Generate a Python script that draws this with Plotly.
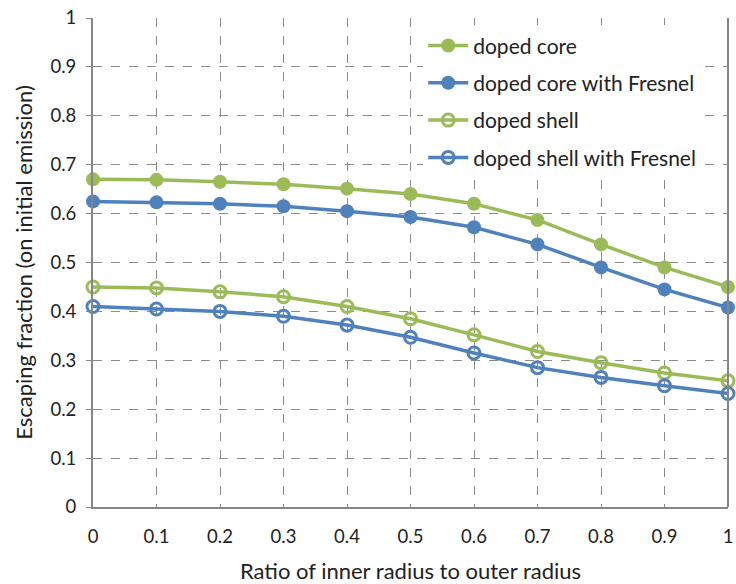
import plotly.graph_objects as go

# Ratio of inner radius to outer radius
ratio = [0, 0.1, 0.2, 0.3, 0.4, 0.5, 0.6, 0.7, 0.8, 0.9, 1.0]

# Escaping fraction (on initial emission) for each configuration
doped_core = [0.670, 0.669, 0.665, 0.660, 0.651, 0.640, 0.620, 0.587, 0.537, 0.490, 0.450]
doped_core_fresnel = [0.625, 0.623, 0.620, 0.615, 0.605, 0.593, 0.572, 0.537, 0.490, 0.445, 0.408]
doped_shell = [0.450, 0.448, 0.440, 0.430, 0.410, 0.385, 0.352, 0.318, 0.295, 0.274, 0.258]
doped_shell_fresnel = [0.410, 0.405, 0.400, 0.390, 0.372, 0.347, 0.315, 0.285, 0.265, 0.248, 0.232]

x_ticks = [0, 0.1, 0.2, 0.3, 0.4, 0.5, 0.6, 0.7, 0.8, 0.9, 1]
y_ticks = [0, 0.1, 0.2, 0.3, 0.4, 0.5, 0.6, 0.7, 0.8, 0.9, 1]

GREEN = "#9BBB59"
BLUE = "#4F81BD"
FONT = "Lato, 'Open Sans', sans-serif"

series = [
    ("doped core", doped_core, GREEN, "circle"),
    ("doped core with Fresnel", doped_core_fresnel, BLUE, "circle"),
    ("doped shell", doped_shell, GREEN, "circle-open"),
    ("doped shell with Fresnel", doped_shell_fresnel, BLUE, "circle-open"),
]

fig = go.Figure()
for name, values, color, symbol in series:
    open_marker = symbol.endswith("open")
    fig.add_trace(go.Scatter(
        x=ratio, y=values, name=name, mode="lines+markers",
        legendgroup=name,
        line=dict(color=color, width=3.5),
        marker=dict(symbol=symbol, color=color,
                    size=12 if open_marker else 14,
                    line=dict(color=color, width=3 if open_marker else 0)),
        cliponaxis=False,
    ))

grid = dict(showgrid=True, gridcolor="#8c8c8c", griddash="dash", gridwidth=1)

fig.update_layout(
    width=736, height=584,
    margin=dict(l=93, r=3, t=18, b=76),
    paper_bgcolor="white", plot_bgcolor="white",
    font=dict(family=FONT, size=18.5, color="#222222"),
    showlegend=True,
    legend=dict(x=0.52, y=0.985, xanchor="left", yanchor="top",
                bgcolor="rgba(255,255,255,1)", borderwidth=0,
                font=dict(size=21, color="#222222"),
                itemwidth=40, tracegroupgap=7),
    xaxis=dict(range=[0, 1], tickvals=x_ticks, ticktext=[f"{v:g}" for v in x_ticks],
               showline=True, linecolor="#868686", linewidth=2,
               ticks="", ticklabelstandoff=12, zeroline=False,
               ticklabeloverflow="allow",
               title=dict(text="Ratio of inner radius to outer radius", standoff=18),
               **grid),
    yaxis=dict(range=[0, 1], tickvals=y_ticks, ticktext=[f"{v:g}" for v in y_ticks],
               showline=True, linecolor="#868686", linewidth=2,
               ticks="outside", ticklen=5, tickcolor="#868686",
               ticklabelstandoff=6, zeroline=False,
               title=dict(text="Escaping fraction (on initial emission)", standoff=12),
               **grid),
)

# Solid right border of the plot area
fig.add_shape(type="line", xref="x domain", yref="y domain",
              x0=1, x1=1, y0=0, y1=1, line=dict(color="#868686", width=2),
              layer="above")

fig.write_html("out.html")
